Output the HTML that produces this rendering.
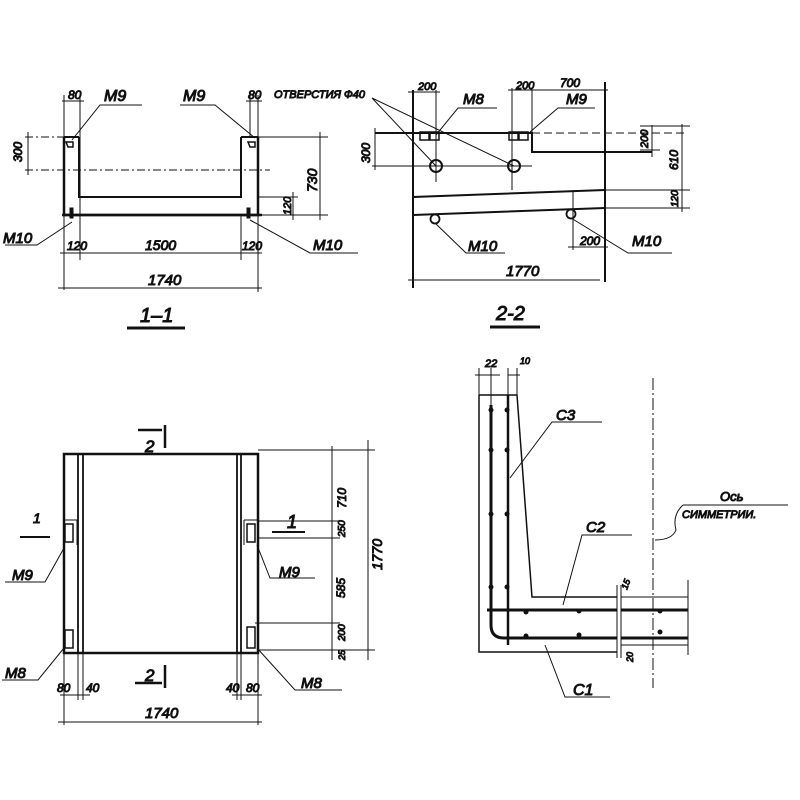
<!DOCTYPE html>
<html><head><meta charset="utf-8"><style>
html,body{margin:0;padding:0;background:#fff}
svg{display:block}
text{font-family:"Liberation Sans",sans-serif;font-style:italic;fill:#111}
</style></head><body>
<svg width="800" height="800" viewBox="0 0 800 800" xmlns="http://www.w3.org/2000/svg" stroke="#111" fill="none" stroke-width="1">
<!-- ===== Section 1-1 ===== -->
<g>
<path d="M64 137V215H258V137" stroke-width="2.5"/>
<path d="M79 137V197H241V137" stroke-width="2"/>
<path d="M64 137H79M241 137H258" stroke-width="2"/>
<line x1="62" y1="215" x2="262" y2="215" stroke-width="2.5"/>
<path d="M66 142h7v5h-5z M248 142h7v5h-5z" stroke-width="1.5"/>
<rect x="70" y="208" width="3" height="10" fill="#111"/>
<rect x="247" y="208" width="3" height="10" fill="#111"/>
<path d="M25 137H64M25 170H270" stroke-dasharray="8 3 2 3"/>
<path d="M258 137H328M258 197H298M258 215H328"/>
<path d="M28 132V175M320 132V220M293 192V220"/>
<path d="M64 95V290M80 95V260M258 95V292M250 95V137M241 215V260"/>
<path d="M62 101H84M246 101H262M60 253H262M58 288H262"/>
<path d="M142 105H100L72 140M180 105H215L255 138M5 245H37L72 222M358 253H310L250 220"/>
<text x="68" y="99" font-size="12">80</text>
<text x="248" y="99" font-size="12">80</text>
<text x="104" y="101" font-size="16">M9</text>
<text x="183" y="101" font-size="16">M9</text>
<text x="22" y="162" font-size="12" transform="rotate(-90 22 162)">300</text>
<text x="317" y="192" font-size="14" transform="rotate(-90 317 192)">730</text>
<text x="291" y="215" font-size="11" transform="rotate(-90 291 215)">120</text>
<text x="3" y="243" font-size="15">M10</text>
<text x="67" y="250" font-size="12">120</text>
<text x="145" y="250" font-size="14">1500</text>
<text x="242" y="250" font-size="12">120</text>
<text x="313" y="250" font-size="15">M10</text>
<text x="148" y="285" font-size="15">1740</text>
<text x="140" y="322" font-size="20">1–1</text>
<line x1="127" y1="328" x2="185" y2="328" stroke-width="3"/>
</g>
<!-- ===== Section 2-2 ===== -->
<g>
<path d="M413 90V288M605 82V282" stroke-width="2"/>
<path d="M375 133H532V152H652" stroke-width="2"/>
<path d="M532 133H688" stroke-dasharray="8 4"/>
<path d="M413 197L605 190M413 215L605 208" stroke-width="2"/>
<path d="M605 190H690M605 208H690"/>
<circle cx="436" cy="166" r="6" stroke-width="2"/>
<circle cx="514" cy="166" r="6" stroke-width="2"/>
<circle cx="435" cy="219" r="4.5" stroke-width="1.8"/>
<circle cx="571" cy="214" r="4.5" stroke-width="1.8"/>
<rect x="420" y="132" width="9" height="8" stroke-width="1.5"/><rect x="430" y="132" width="9" height="8" stroke-width="1.5"/>
<rect x="509" y="132" width="9" height="8" stroke-width="1.5"/><rect x="519" y="132" width="9" height="8" stroke-width="1.5"/>
<path d="M372 166H532M436 90V182M512 88V190M532 88V133M573 190V250"/>
<path d="M375 128V170M652 125V157M682 124V212"/>
<path d="M408 92H440M508 90H608M640 126H690M640 150H660M600 280H408M568 247H608"/>
<path d="M372 98L436 166M372 98L514 166M497 108H458L436 135M595 108H558L530 132M505 253H466L435 223M672 253H628L571 218"/>
<text x="274" y="98" font-size="11">ОТВЕРСТИЯ Ф40</text>
<text x="418" y="90" font-size="11">200</text>
<text x="516" y="89" font-size="11">200</text>
<text x="560" y="87" font-size="12">700</text>
<text x="463" y="104" font-size="15">M8</text>
<text x="566" y="104" font-size="15">M9</text>
<text x="370" y="163" font-size="12" transform="rotate(-90 370 163)">300</text>
<text x="648" y="148" font-size="11" transform="rotate(-90 648 148)">200</text>
<text x="678" y="170" font-size="12" transform="rotate(-90 678 170)">610</text>
<text x="678" y="207" font-size="10" transform="rotate(-90 678 207)">120</text>
<text x="468" y="251" font-size="15">M10</text>
<text x="580" y="245" font-size="12">200</text>
<text x="632" y="246" font-size="15">M10</text>
<text x="506" y="276" font-size="15">1770</text>
<text x="496" y="320" font-size="20">2-2</text>
<line x1="490" y1="327" x2="540" y2="327" stroke-width="3"/>
</g>
<!-- ===== Plan ===== -->
<g>
<path d="M64 454V653H258V454Z" stroke-width="2.5"/>
<path d="M78 454V653M83 454V653M237 454V653M241 454V653" stroke-width="1.8"/>
<path d="M64 520H77V545M244 520H258M244 520V545"/>
<rect x="65" y="524" width="8" height="18" stroke-width="1.5"/>
<rect x="65" y="630" width="8" height="18" stroke-width="1.5"/>
<rect x="247" y="524" width="8" height="18" stroke-width="1.5"/>
<rect x="247" y="627" width="8" height="21" stroke-width="1.5"/>
<path d="M258 450H375M258 521H340M258 538H340M255 623H340M258 650H375"/>
<path d="M332 446V660M368 440V660"/>
<path d="M64 653V725M78 653V700M83 653V700M237 653V700M241 653V700M258 653V725"/>
<path d="M60 695H90M232 695H262M58 722H262"/>
<path d="M138 430H162M165 425V448M135 683H162M165 665V688" stroke-width="2.5"/>
<path d="M20 537H50M272 532H305" stroke-width="2"/>
<path d="M5 582H45L64 548M315 578H270L257 545M2 680H38L64 648M342 690H295L257 648"/>
<text x="145" y="452" font-size="17">2</text>
<text x="145" y="681" font-size="17">2</text>
<text x="33" y="523" font-size="14">1</text>
<text x="287" y="528" font-size="18">1</text>
<text x="12" y="580" font-size="15">M9</text>
<text x="279" y="577" font-size="15">M9</text>
<text x="5" y="678" font-size="15">M8</text>
<text x="301" y="688" font-size="15">M8</text>
<text x="346" y="508" font-size="12" transform="rotate(-90 346 508)">710</text>
<text x="345" y="537" font-size="10" transform="rotate(-90 345 537)">250</text>
<text x="345" y="598" font-size="12" transform="rotate(-90 345 598)">585</text>
<text x="345" y="641" font-size="10" transform="rotate(-90 345 641)">200</text>
<text x="345" y="660" font-size="9" transform="rotate(-90 345 660)">25</text>
<text x="382" y="570" font-size="14" transform="rotate(-90 382 570)">1770</text>
<text x="57" y="692" font-size="12">80</text>
<text x="86" y="692" font-size="12">40</text>
<text x="226" y="692" font-size="12">40</text>
<text x="246" y="692" font-size="12">80</text>
<text x="145" y="718" font-size="15">1740</text>
</g>
<!-- ===== Detail ===== -->
<g>
<path d="M479 395V652H617M479 395H517L532 597H617" stroke-width="1.5"/>
<path d="M621 597H688M621 645H688M688 580V655"/>
<path d="M617 585V658M621 585V658"/>
<path d="M491 405V625Q491 638 504 638H617M621 638H688" stroke-width="3"/>
<path d="M508 395V645" stroke-width="2.5"/>
<path d="M487 610H617M621 610H688" stroke-width="3"/>
<g fill="#111" stroke="none">
<circle cx="491" cy="410" r="2.5"/><circle cx="507" cy="410" r="2.5"/>
<circle cx="491" cy="450" r="2.5"/><circle cx="507" cy="450" r="2.5"/>
<circle cx="491" cy="514" r="2.5"/><circle cx="507" cy="514" r="2.5"/>
<circle cx="491" cy="587" r="2.5"/><circle cx="507" cy="587" r="2.5"/>
<circle cx="526" cy="612" r="2.5"/><circle cx="579" cy="611" r="2.5"/><circle cx="660" cy="611" r="2.5"/>
<circle cx="526" cy="636" r="2.5"/><circle cx="579" cy="635" r="2.5"/><circle cx="660" cy="632" r="2.5"/>
</g>
<path d="M653 378V688" stroke-dasharray="12 3 2 3"/>
<path d="M475 375H500M508 375H520M479 368V395M491 368V405M508 368V395M517 368V395"/>
<path d="M602 422H552L510 478M632 535H582L563 605M610 697H565L545 645M683 505H788M683 505Q672 515 676 530Q672 540 655 540"/>
<text x="485" y="367" font-size="11">22</text>
<text x="520" y="364" font-size="9">10</text>
<text x="556" y="420" font-size="15">С3</text>
<text x="586" y="532" font-size="15">С2</text>
<text x="720" y="501" font-size="13">Ось</text>
<text x="682" y="518" font-size="11">СИММЕТРИИ.</text>
<text x="573" y="695" font-size="16">С1</text>
<text x="627" y="590" font-size="9" transform="rotate(-70 627 590)">15</text>
<text x="633" y="662" font-size="9" transform="rotate(-90 633 662)">20</text>
</g>
</svg>
</body></html>
